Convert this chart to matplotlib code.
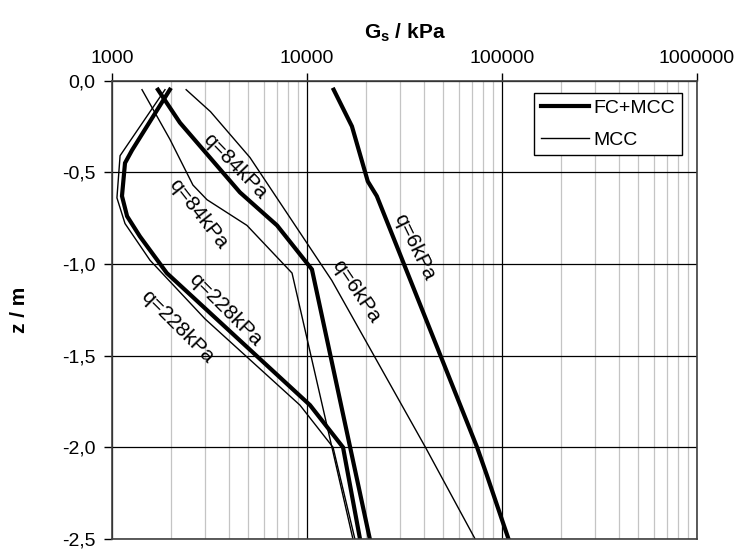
import numpy as np
import matplotlib
matplotlib.use("Agg")
import matplotlib.pyplot as plt
from matplotlib.ticker import FixedLocator, FuncFormatter, LogLocator, NullFormatter

plt.rcParams['font.family'] = ['Liberation Sans', 'DejaVu Sans']
plt.rcParams['font.size'] = 14
plt.rcParams['mathtext.fontset'] = 'custom'
plt.rcParams['mathtext.rm'] = 'Liberation Sans'
plt.rcParams['mathtext.bf'] = 'Liberation Sans:bold'
plt.rcParams['axes.unicode_minus'] = False

# Schubmodul Gs [kPa] ueber Tiefe z [m]
# q = 6 kPa
z_q6_fc = [-0.05, -0.25, -0.55, -0.63, -2.00, -2.15, -2.50]
g_q6_fc = [13700, 17000, 20500, 22800, 74500, 83500, 108000]
z_q6_mcc = [-0.05, -0.17, -0.42, -1.09, -2.00, -2.50]
g_q6_mcc = [2400, 3200, 5100, 13400, 40500, 72800]

# q = 84 kPa
z_q84_fc = [-0.05, -0.23, -0.61, -0.79, -1.03, -2.50]
g_q84_fc = [1720, 2230, 4530, 7020, 10600, 21000]
z_q84_mcc = [-0.05, -0.32, -0.57, -0.65, -0.79, -1.05, -2.50]
g_q84_mcc = [1425, 1980, 2600, 3070, 4920, 8380, 17200]

# q = 228 kPa
z_q228_fc = [-0.05, -0.38, -0.45, -0.63, -0.74, -0.85, -1.05, -1.77, -2.00, -2.50]
g_q228_fc = [1980, 1267, 1166, 1125, 1195, 1390, 1910, 10360, 15300, 18700]
z_q228_mcc = [-0.05, -0.41, -0.64, -0.78, -0.98, -1.30, -1.77, -2.00, -2.50]
g_q228_mcc = [1870, 1100, 1060, 1166, 1566, 3000, 9200, 13600, 17600]

x_ticks = [1000, 10000, 100000, 1000000]
z_ticks = [0.0, -0.5, -1.0, -1.5, -2.0, -2.5]

fig = plt.figure(figsize=(7.39, 5.51), dpi=100)
ax = fig.add_axes([112 / 739, 1 - 539 / 551, (697 - 112) / 739, (539 - 80.5) / 551])

thick = dict(color='black', lw=3.0, solid_joinstyle='miter')
thin = dict(color='black', lw=1.0)

ax.plot(g_q6_fc, z_q6_fc, label='FC+MCC', **thick)
ax.plot(g_q6_mcc, z_q6_mcc, label='MCC', **thin)
ax.plot(g_q84_fc, z_q84_fc, **thick)
ax.plot(g_q84_mcc, z_q84_mcc, **thin)
ax.plot(g_q228_fc, z_q228_fc, **thick)
ax.plot(g_q228_mcc, z_q228_mcc, **thin)

# Beschriftung der Kurven
labels = [
    ('q=84kPa', 4280, -0.470, -46),
    ('q=84kPa', 2760, -0.727, -52),
    ('q=6kPa', 35400, -0.907, -64),
    ('q=6kPa', 17800, -1.152, -56),
    ('q=228kPa', 3800, -1.250, -45),
    ('q=228kPa', 2150, -1.343, -45),
]
for txt, gx, zy, rot in labels:
    ax.text(gx, zy, txt, rotation=rot, rotation_mode='anchor',
            ha='center', va='center', fontsize=15)

ax.set_xscale('log')
ax.set_xlim(1000, 1000000)
ax.set_ylim(-2.5, 0.0)

ax.xaxis.tick_top()
ax.xaxis.set_label_position('top')
ax.xaxis.set_major_locator(FixedLocator(x_ticks))
ax.xaxis.set_major_formatter(FuncFormatter(lambda v, p: f'{int(round(v))}'))
ax.xaxis.set_minor_locator(LogLocator(base=10, subs=np.arange(2, 10)))
ax.xaxis.set_minor_formatter(NullFormatter())
ax.yaxis.set_major_locator(FixedLocator(z_ticks))
ax.yaxis.set_major_formatter(FuncFormatter(lambda v, p: f'{v:.1f}'.replace('.', ',')))

ax.tick_params(axis='both', which='major', direction='out', length=6, width=1, pad=4)
ax.tick_params(axis='y', which='major', pad=6)
ax.tick_params(axis='x', which='minor', length=0)

ax.grid(which='major', color='black', lw=0.9)
ax.grid(which='minor', axis='x', color='#c4c4c4', lw=0.9)
ax.set_axisbelow(True)
for s in ax.spines.values():
    s.set_color('#404040')
    s.set_linewidth(1.2)

ax.set_xlabel(r'$\mathbf{G_s}$ / kPa', fontweight='bold', fontsize=15, labelpad=8)
ax.set_ylabel('z / m', fontweight='bold', fontsize=15, labelpad=24)

leg = ax.legend(loc='upper right', bbox_to_anchor=(0.974, 0.973), fancybox=False,
                edgecolor='black', framealpha=1, handlelength=2.5,
                handletextpad=0.2, borderpad=0.35, labelspacing=0.7,
                borderaxespad=0, fontsize=14)
leg.get_frame().set_linewidth(1.0)

fig.savefig('out.png', dpi=100)
